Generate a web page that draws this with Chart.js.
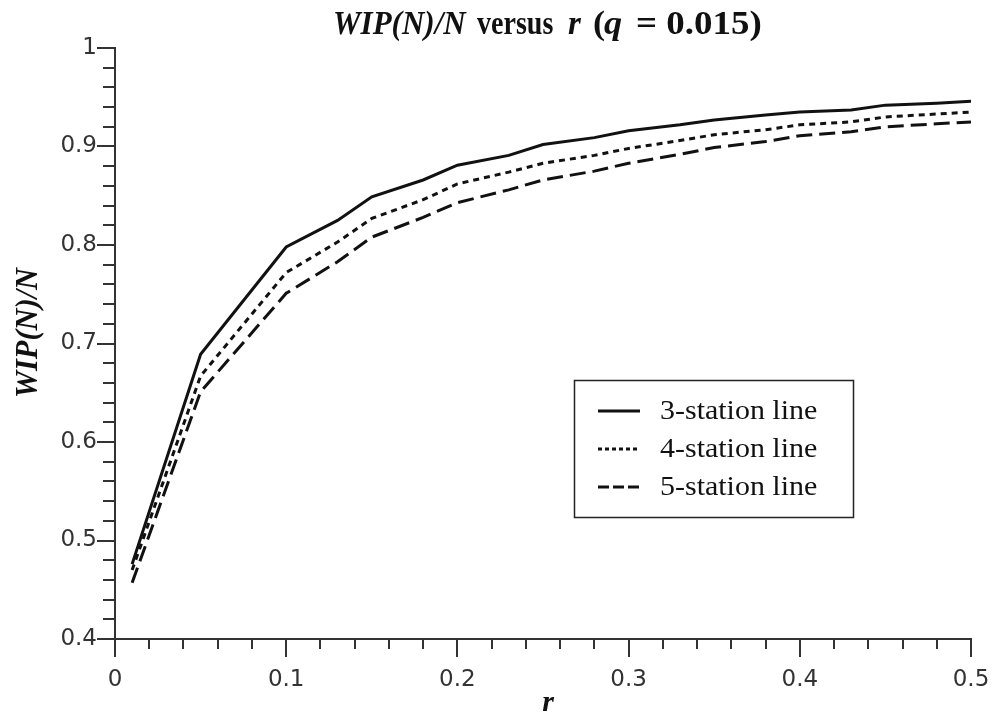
<!DOCTYPE html>
<html>
<head>
<meta charset="utf-8">
<script src="https://cdn.jsdelivr.net/npm/chart.js@4/dist/chart.umd.min.js"></script>
<style>
  html, body { margin: 0; padding: 0; background: #fff; }
  #wrap { width: 994px; height: 715px; position: relative; }
</style>
</head>
<body>
<div id="wrap"><canvas id="chart" width="994" height="715"></canvas></div>
<script>
// values
const rValues = [0.01, 0.05, 0.1, 0.13, 0.15, 0.18, 0.2, 0.23, 0.25, 0.28, 0.3, 0.33, 0.35, 0.38, 0.4, 0.43, 0.45, 0.48, 0.5];
const wip3 = [0.476, 0.689, 0.798, 0.825, 0.849, 0.866, 0.881, 0.891, 0.902, 0.909, 0.916, 0.922, 0.927, 0.932, 0.935, 0.937, 0.942, 0.944, 0.946];
const wip4 = [0.470, 0.667, 0.772, 0.803, 0.827, 0.846, 0.862, 0.874, 0.883, 0.891, 0.898, 0.906, 0.912, 0.917, 0.922, 0.925, 0.930, 0.933, 0.935];
const wip5 = [0.457, 0.651, 0.751, 0.783, 0.808, 0.828, 0.843, 0.856, 0.866, 0.875, 0.883, 0.892, 0.899, 0.905, 0.911, 0.915, 0.920, 0.923, 0.925];
const seriesNames = ['3-station line', '4-station line', '5-station line'];
const xTicks = [0, 0.1, 0.2, 0.3, 0.4, 0.5];
const yTicks = [0.4, 0.5, 0.6, 0.7, 0.8, 0.9, 1];

const ink = '#111';
const axisCol = '#333';
const serif = '"Liberation Serif", "Times New Roman", serif';

const toPts = ys => rValues.map((r, i) => ({ x: r, y: ys[i] }));

// draws the title, axis titles, minor/major ticks and the boxed legend
const extras = {
  id: 'extras',
  afterDraw(chart) {
    const ctx = chart.ctx;
    const xs = chart.scales.x, ys = chart.scales.y;
    const area = chart.chartArea;

    // tick marks (major every 0.1, minor every 0.02)
    ctx.save();
    ctx.strokeStyle = axisCol;
    ctx.lineWidth = 2;
    ctx.beginPath();
    for (let i = 0; i <= 25; i++) {
      const px = Math.round(xs.getPixelForValue(i * 0.02));
      const len = i % 5 === 0 ? 18 : 10;
      ctx.moveTo(px, area.bottom);
      ctx.lineTo(px, area.bottom + len);
    }
    for (let i = 0; i <= 30; i++) {
      const py = Math.round(ys.getPixelForValue(0.4 + i * 0.02));
      const len = i % 5 === 0 ? 18 : 12;
      ctx.moveTo(area.left, py);
      ctx.lineTo(area.left - len, py);
    }
    ctx.stroke();
    ctx.restore();

    // title with mixed styles: [text, style, left x, horizontal scale]
    const segs = [
      ['WIP(N)/N', 'italic bold', 333, 0.94],
      ['versus', 'bold', 477, 0.85],
      ['r', 'italic bold', 568, 1.0],
      ['(', 'bold', 593, 1.1],
      ['q', 'italic bold', 604, 1.1],
      ['= 0.015)', 'bold', 636, 1.12]
    ];
    ctx.save();
    ctx.fillStyle = ink;
    ctx.textBaseline = 'middle';
    segs.forEach(s => {
      ctx.save();
      ctx.font = s[1] + ' 33px ' + serif;
      ctx.translate(s[2], 25);
      ctx.scale(s[3], 1);
      ctx.fillText(s[0], 0, 0);
      ctx.restore();
    });
    ctx.restore();

    // y axis title
    ctx.save();
    ctx.fillStyle = ink;
    ctx.font = 'italic bold 32px ' + serif;
    ctx.textAlign = 'center';
    ctx.textBaseline = 'middle';
    ctx.translate(29, 333);
    ctx.rotate(-Math.PI / 2);
    ctx.scale(0.95, 1);
    ctx.fillText('WIP(N)/N', 0, 0);
    ctx.restore();

    // x axis title
    ctx.save();
    ctx.fillStyle = ink;
    ctx.font = 'italic bold 30px ' + serif;
    ctx.textAlign = 'center';
    ctx.textBaseline = 'middle';
    ctx.fillText('r', 548, 703);
    ctx.restore();

    // legend box
    const lx = 574, ly = 380, lw = 279, lh = 137;
    ctx.save();
    ctx.strokeStyle = '#222';
    ctx.lineWidth = 1.5;
    ctx.strokeRect(lx + 0.5, ly + 0.5, lw, lh);
    const legendDash = [[], [4, 3], [11, 4]];
    chart.data.datasets.forEach((ds, i) => {
      const cy = 411 + i * 38;
      ctx.strokeStyle = ink;
      ctx.lineWidth = 2.8;
      ctx.setLineDash(legendDash[i]);
      ctx.beginPath();
      ctx.moveTo(598, cy);
      ctx.lineTo(640, cy);
      ctx.stroke();
      ctx.setLineDash([]);
      ctx.save();
      ctx.fillStyle = ink;
      ctx.font = '27px ' + serif;
      ctx.textBaseline = 'middle';
      ctx.translate(660, cy + 1);
      ctx.scale(1.11, 1);
      ctx.fillText(ds.label, 0, 0);
      ctx.restore();
    });
    ctx.restore();
  }
};

new Chart(document.getElementById('chart'), {
  type: 'line',
  data: {
    datasets: [
      { label: seriesNames[0], data: toPts(wip3), borderDash: [] },
      { label: seriesNames[1], data: toPts(wip4), borderDash: [6, 5] },
      { label: seriesNames[2], data: toPts(wip5), borderDash: [16, 7] }
    ].map(d => Object.assign(d, {
      borderColor: ink,
      backgroundColor: ink,
      borderWidth: 3,
      pointRadius: 0,
      tension: 0,
      fill: false
    }))
  },
  options: {
    responsive: false,
    animation: false,
    layout: { padding: { left: 0, top: 48, right: 23, bottom: 0 } },
    plugins: {
      legend: { display: false },
      title: { display: false },
      tooltip: { enabled: false }
    },
    scales: {
      x: {
        type: 'linear',
        min: 0,
        max: 0.5,
        afterBuildTicks: s => { s.ticks = xTicks.map(v => ({ value: v })); },
        afterFit: s => { s.height = 76; s.paddingLeft = 0; s.paddingRight = 0; },
        grid: { display: false, drawTicks: true, tickLength: 18 },
        border: { display: true, color: axisCol, width: 2 },
        ticks: {
          color: '#333',
          font: { family: '"DejaVu Sans"', size: 23 },
          padding: 9,
          maxRotation: 0,
          callback: v => String(+v.toFixed(1))
        }
      },
      y: {
        type: 'linear',
        min: 0.4,
        max: 1,
        afterBuildTicks: s => { s.ticks = yTicks.map(v => ({ value: v })); },
        afterFit: s => { s.width = 115; s.paddingTop = 0; s.paddingBottom = 0; },
        grid: { display: false, drawTicks: true, tickLength: 18 },
        border: { display: true, color: axisCol, width: 2 },
        ticks: {
          color: '#333',
          font: { family: '"DejaVu Sans"', size: 23 },
          padding: 0,
          callback: v => String(+v.toFixed(1))
        }
      }
    }
  },
  plugins: [extras]
});
</script>
</body>
</html>
